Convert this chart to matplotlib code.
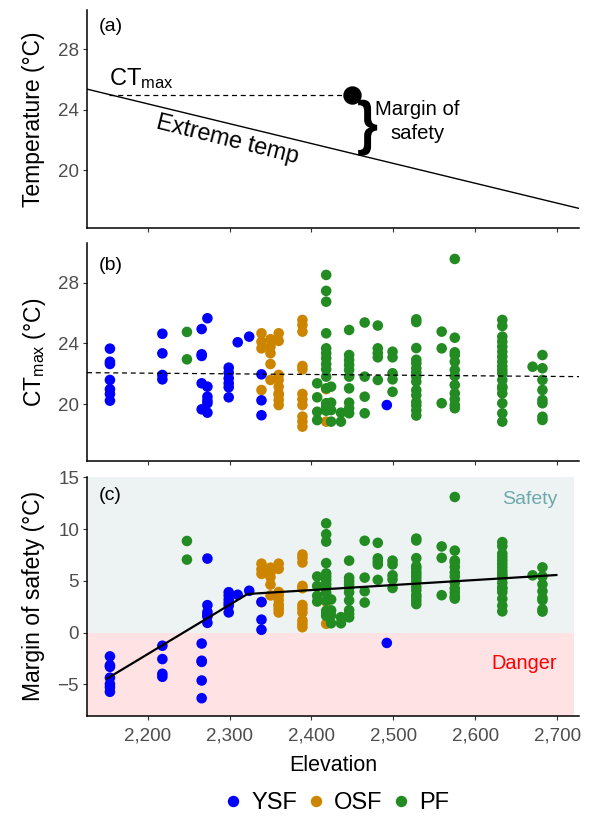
import matplotlib
matplotlib.use("Agg")
import matplotlib.pyplot as plt
from matplotlib.ticker import FuncFormatter, FixedLocator
from matplotlib.textpath import TextPath
from matplotlib.patches import PathPatch, Rectangle
from matplotlib.font_manager import FontProperties
from matplotlib.transforms import Affine2D
from matplotlib.lines import Line2D

plt.rcParams['font.family'] = ['Liberation Sans', 'DejaVu Sans']
plt.rcParams['mathtext.fontset'] = 'custom'
plt.rcParams['mathtext.rm'] = 'Liberation Sans'
plt.rcParams['mathtext.it'] = 'Liberation Sans:italic'

# ---------------- data ----------------
groups = ["YSF", "OSF", "PF"]
group_colors = {"YSF": "#0000FF", "OSF": "#CD8500", "PF": "#228B22"}

# panel (a) schematic
a_line_elev = [2126, 2727]
a_line_temp = [25.36, 17.47]
a_ctmax_elev = 2450
a_ctmax_temp = 25.0

# sites: elevation, forest type, extreme temperature, CTmax of individuals
site_elev = [2154, 2218, 2248, 2273, 2266, 2299, 2310, 2324, 2339, 2339,
             2350, 2360, 2389, 2418, 2407, 2418, 2424, 2436, 2446, 2465,
             2481, 2492, 2499, 2528, 2559, 2575, 2633, 2670, 2682]
site_group = ["YSF", "YSF", "PF", "YSF", "YSF", "YSF", "YSF", "YSF", "YSF", "OSF",
              "OSF", "OSF", "OSF", "OSF", "PF", "PF", "PF", "PF", "PF", "PF",
              "PF", "YSF", "PF", "PF", "PF", "PF", "PF", "PF", "PF"]
site_tmax = [25.95, 25.90, 15.90, 18.50, 26.00, 18.50, 20.42, 20.40, 19.00, 18.00,
             18.00, 18.00, 18.00, 18.00, 15.95, 17.95, 17.95, 17.95, 17.93, 16.50,
             16.50, 20.94, 16.50, 16.50, 16.45, 16.45, 16.80, 16.93, 16.93]
site_ctmax = [
    [23.66, 22.80, 22.65, 21.60, 20.99, 20.68, 20.24],
    [24.64, 23.35, 21.93, 21.64],
    [24.76, 22.96],
    [25.66, 21.16, 20.50, 20.24, 20.07, 19.45],
    [24.95, 23.29, 23.18, 21.38, 19.67],
    [22.41, 22.08, 21.71, 21.38, 21.12, 20.46],
    [24.08],
    [24.45],
    [21.97, 20.26, 19.28],
    [24.67, 24.12, 23.68, 20.94],
    [24.28, 23.79, 23.36, 22.65, 21.60],
    [24.67, 24.17, 21.93, 21.60, 21.16, 20.72, 20.60, 20.28, 19.95],
    [25.55, 25.22, 24.78, 22.52, 22.30, 20.68, 20.33, 19.95, 19.19, 18.86, 18.53],
    [21.00, 18.86],
    [21.38, 20.46, 19.51, 18.96],
    [28.51, 27.46, 26.75, 24.67, 23.68, 23.36, 23.03, 22.65, 22.30, 21.82, 21.05, 20.07, 19.84, 19.58],
    [21.16, 20.11, 19.62, 18.86],
    [19.45, 18.86],
    [24.89, 23.24, 22.91, 22.59, 22.26, 21.82, 21.05, 20.11, 19.74, 19.41],
    [25.38, 21.82, 20.50, 19.41],
    [25.18, 23.68, 23.36, 23.09, 21.60],
    [19.95],
    [23.46, 23.09, 22.04, 21.64, 20.82],
    [25.59, 25.41, 23.70, 22.93, 22.70, 22.37, 22.10, 21.82, 21.49, 20.93, 20.60, 20.15, 19.93, 19.60, 19.26],
    [24.78, 23.68, 20.07],
    [29.56, 24.38, 23.42, 23.24, 22.80, 22.26, 21.86, 21.27, 20.72, 20.33, 19.95, 19.74],
    [25.55, 25.15, 24.45, 24.12, 23.79, 23.46, 23.13, 22.80, 22.50, 22.26, 22.04, 21.60, 21.16, 21.05, 20.72, 20.07, 19.41, 18.86],
    [22.47],
    [23.24, 22.37, 21.60, 20.94, 20.28, 20.07, 19.18, 18.97],
]

# fitted lines
b_fit_elev = [2126, 2727]
b_fit_ctmax = [22.08, 21.82]
c_fit_elev = [2151, 2322, 2699]
c_fit_margin = [-4.41, 3.74, 5.57]

x_ticks = [2200, 2300, 2400, 2500, 2600, 2700]
a_yticks = [20, 24, 28]
b_yticks = [20, 24, 28]
c_yticks = [-5, 0, 5, 10, 15]

# ---------------- figure ----------------
W, H = 592, 823
fig = plt.figure(figsize=(W / 100, H / 100), dpi=100)

def box(top, bottom, left=87, right=579.3):
    return [left / W, 1 - bottom / H, (right - left) / W, (bottom - top) / H]

PA = (10, 227.7)
PB = (243.3, 460.7)
PC = (476.7, 715.7)
ax_a = fig.add_axes(box(*PA))
ax_b = fig.add_axes(box(*PB))
ax_c = fig.add_axes(box(*PC))

XLIM = (2126, 2727)
TICK_COL = "#4D4D4D"
for ax in (ax_a, ax_b, ax_c):
    ax.set_xlim(*XLIM)
    for s in ("top", "right"):
        ax.spines[s].set_visible(False)
    for s in ("left", "bottom"):
        ax.spines[s].set_linewidth(1.1)
        ax.spines[s].set_color("black")
    ax.xaxis.set_major_locator(FixedLocator(x_ticks))
    ax.tick_params(axis="both", direction="out", length=3.2, width=0.8,
                   color="#333333", labelcolor=TICK_COL, labelsize=13.5, pad=2.5)
    ax.set_facecolor("none")

ax_a.tick_params(axis="x", labelbottom=False)
ax_b.tick_params(axis="x", labelbottom=False)
ax_c.xaxis.set_major_formatter(FuncFormatter(lambda v, p: f"{v:,.0f}"))
ax_c.tick_params(axis="x", pad=5)

# ---- panel (a)
ax_a.set_ylim(16.2, 30.59)
ax_a.yaxis.set_major_locator(FixedLocator(a_yticks))
ax_a.plot(a_line_elev, a_line_temp, color="black", lw=1.0, clip_on=True)
slope = (a_line_temp[1] - a_line_temp[0]) / (a_line_elev[1] - a_line_elev[0])
x_cross = a_line_elev[0] + (a_ctmax_temp - a_line_temp[0]) / slope
ax_a.plot([x_cross, a_ctmax_elev], [a_ctmax_temp, a_ctmax_temp], color="black",
          lw=0.9, ls=(0, (4, 3)))
ax_a.scatter([a_ctmax_elev], [a_ctmax_temp], s=150, color="black", zorder=5)
ax_a.text(2153, 25.65, r"CT$_{\mathrm{max}}$", fontsize=17, ha="left", va="baseline")
ax_a.text(2298, 22.0, "Extreme temp", fontsize=16.9, rotation=-14,
          ha="center", va="center", rotation_mode="anchor")
ax_a.text(2529, 23.23, "Margin of\nsafety", fontsize=14.6, ha="center", va="center",
          linespacing=1.32)
ax_a.text(2140, 29.48, "(a)", fontsize=14, ha="left", va="center")

# brace
fig.canvas.draw()
brace_x = 2457
brace_top = a_ctmax_temp - 0.34
brace_bot = 20.97
fp = FontProperties(family="Liberation Sans", weight="bold")
tp = TextPath((0, 0), "}", size=1, prop=fp)
ext = tp.get_extents()
p_top = ax_a.transData.transform((brace_x, brace_top))
p_bot = ax_a.transData.transform((brace_x, brace_bot))
h_px = p_top[1] - p_bot[1]
w_px = 19
tr = Affine2D().translate(-ext.x0, -ext.y0).scale(w_px / ext.width, h_px / ext.height) \
    .translate(p_bot[0], p_bot[1])
ax_a.add_patch(PathPatch(tp, transform=tr, facecolor="black", edgecolor="none",
                         clip_on=False))

# ---- panel (b)
ax_b.set_ylim(16.29, 30.59)
ax_b.yaxis.set_major_locator(FixedLocator(b_yticks))
order = ["OSF", "YSF", "PF"]
PT_SIZE = 58
for g in order:
    xs, ys = [], []
    for e, gg, vals in zip(site_elev, site_group, site_ctmax):
        if gg == g:
            xs += [e] * len(vals)
            ys += vals
    ax_b.scatter(xs, ys, s=PT_SIZE, color=group_colors[g], edgecolors="none", zorder=3)
ax_b.plot(b_fit_elev, b_fit_ctmax, color="black", lw=0.9, ls=(0, (4, 3)), zorder=4)
ax_b.text(2140, 29.16, "(b)", fontsize=14, ha="left", va="center")

# ---- panel (c)
ax_c.set_ylim(-8.02, 15.07)
ax_c.yaxis.set_major_locator(FixedLocator(c_yticks))
ax_c.add_patch(Rectangle((XLIM[0], 0), 2720 - XLIM[0], 20, facecolor="#EDF3F3",
                         edgecolor="none", zorder=0))
ax_c.add_patch(Rectangle((XLIM[0], -20), 2720 - XLIM[0], 20, facecolor="#FFE3E4",
                         edgecolor="none", zorder=0))
for g in order:
    xs, ys = [], []
    for e, gg, vals, tm in zip(site_elev, site_group, site_ctmax, site_tmax):
        if gg == g:
            xs += [e] * len(vals)
            ys += [v - tm for v in vals]
    ax_c.scatter(xs, ys, s=PT_SIZE, color=group_colors[g], edgecolors="none", zorder=3)
ax_c.plot(c_fit_elev, c_fit_margin, color="black", lw=1.6, zorder=4)
ax_c.text(2140, 13.3, "(c)", fontsize=14, ha="left", va="center")
ax_c.text(2700, 12.9, "Safety", fontsize=14, color="#6FA8AC", ha="right", va="center")
ax_c.text(2700, -2.96, "Danger", fontsize=14.3, color="#FF0000", ha="right", va="center")
ax_c.set_xlabel("Elevation", fontsize=15.5, labelpad=8)

# y labels
def panel_center(top, bottom):
    return 1 - (top + bottom) / 2 / H
fig.text(34 / W, panel_center(*PA), "Temperature (°C)", rotation=90,
         fontsize=16.5, ha="center", va="center")
fig.text(34 / W, panel_center(*PB), r"CT$_{\mathrm{max}}$ (°C)", rotation=90,
         fontsize=16.5, ha="center", va="center")
fig.text(34 / W, panel_center(*PC), "Margin of safety (°C)", rotation=90,
         fontsize=16.5, ha="center", va="center")

# legend
handles = [Line2D([], [], marker="o", ls="none", color=group_colors[g], ms=7.2)
           for g in groups]
fig.legend(handles, groups, loc="center", bbox_to_anchor=(334 / W, 1 - 803 / H),
           ncol=3, frameon=False, fontsize=17, handletextpad=0.15,
           columnspacing=0.2, handlelength=1.2)

fig.savefig("out.png", dpi=100)
